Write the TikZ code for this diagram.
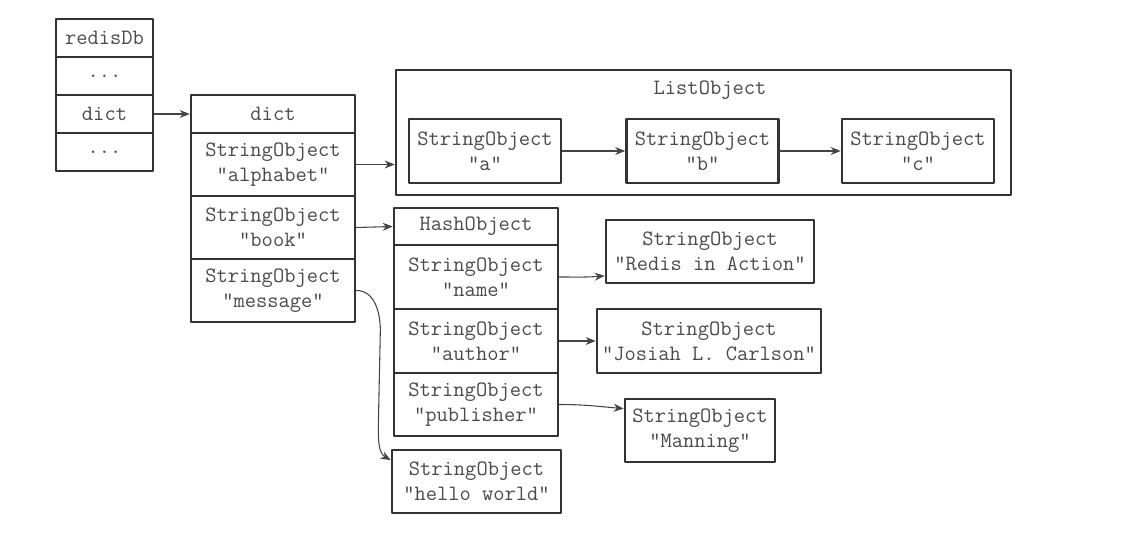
\documentclass[tikz,border=0pt]{standalone}
\usepackage{fontspec}
\usetikzlibrary{arrows.meta}
\definecolor{boxc}{HTML}{333333}
\definecolor{txtc}{HTML}{4A4A4A}
\definecolor{arrc}{HTML}{444444}
\begin{document}
\begin{tikzpicture}[x=0.75pt,y=-0.75pt, font=\ttfamily\fontsize{16.4}{18.75}\selectfont, line join=round, line cap=round,
	w/.style={minimum width=#1*0.75pt}, h/.style={minimum height=#1*0.75pt},
	cell/.style={draw=boxc, line width=2pt, text=txtc, inner sep=0pt, align=center},
	link/.style={draw=arrc, line width=0.8pt, -{Stealth[length=7.5pt,width=6pt]}}]
	\useasboundingbox (0,0) rectangle (1126,542);
	% redisDb
	\node[cell, w=97, h=38] (db) at (104.5,38) {redisDb};
	\node[cell, w=97, h=38] (dbdotsa) at (104.5,76) {...};
	\node[cell, w=97, h=38] (dbdict) at (104.5,114) {dict};
	\node[cell, w=97, h=38] (dbdotsb) at (104.5,152) {...};
	% dict
	\node[cell, w=164, h=38] (dhead) at (273,114) {dict};
	\node[cell, w=164, h=63] (dalpha) at (273,164.5) {StringObject\\"alphabet"};
	\node[cell, w=164, h=63] (dbook) at (273,227.5) {StringObject\\"book"};
	\node[cell, w=164, h=63] (dmsg) at (273,290.5) {StringObject\\"message"};
	% list
	\node[cell, w=615, h=125] (list) at (703.5,132.5) {};
	\node[text=txtc] (listtitle) at (710,90) {ListObject};
	\node[cell, w=152, h=64] (sa) at (485,151) {StringObject\\"a"};
	\node[cell, w=152, h=64] (sb) at (702.5,151) {StringObject\\"b"};
	\node[cell, w=152, h=64] (sc) at (918,151) {StringObject\\"c"};
	% hash
	\node[cell, w=164, h=37] (hhead) at (476,226.5) {HashObject};
	\node[cell, w=164, h=64] (hname) at (476,277) {StringObject\\"name"};
	\node[cell, w=164, h=64] (hauthor) at (476,341) {StringObject\\"author"};
	\node[cell, w=164, h=63] (hpub) at (476,404.5) {StringObject\\"publisher"};
	\node[cell, w=208, h=63] (redis) at (710,251.5) {StringObject\\"Redis in Action"};
	\node[cell, w=224, h=64] (josiah) at (709,341) {StringObject\\"Josiah L. Carlson"};
	\node[cell, w=150, h=63] (manning) at (700,430.5) {StringObject\\"Manning"};
	\node[cell, w=169, h=63] (hello) at (476.5,481.5) {StringObject\\"hello world"};
	% links
	\draw[link] (dbdict.east) -- (dhead.west);
	\draw[link] (dalpha.east) -- (dalpha.east -| list.west);
	\draw[link] (sa.east) -- (sb.west);
	\draw[link] (sb.east) -- (sc.west);
	\draw[link] (dbook.east) -- (hhead.west);
	\draw[link] (hname.east) to[out=0,in=185] (redis.193);
	\draw[link] (hauthor.east) -- (josiah.west);
	\draw[link] (hpub.east) to[out=0,in=175] (manning.164);
	\draw[link] (dmsg.east) to[out=0,in=90] ++(24,40) -- ++(-2,95) to[out=-90,in=150] (hello.166);
\end{tikzpicture}
\end{document}
